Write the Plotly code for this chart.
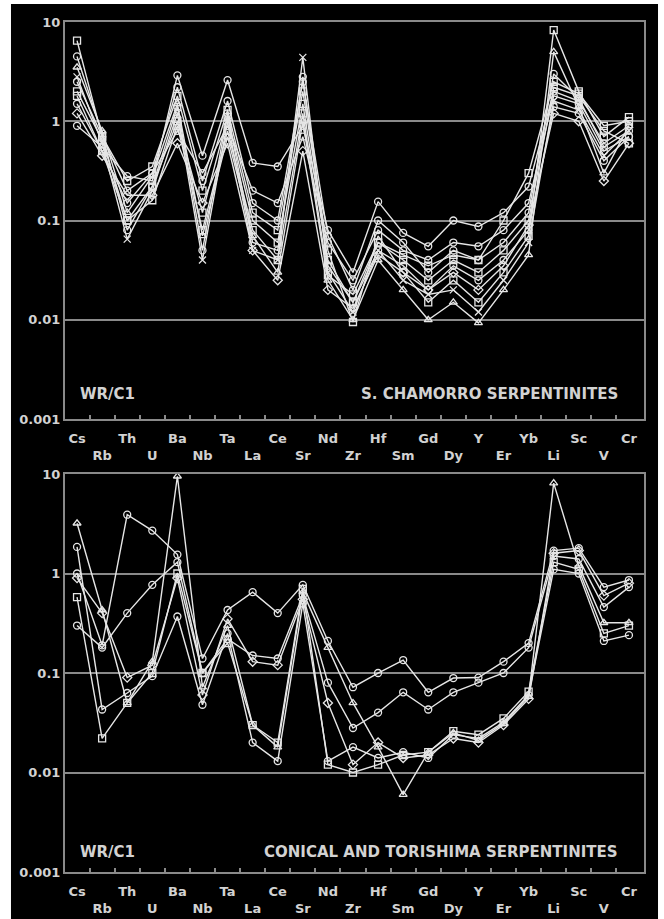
import plotly.graph_objects as go

# Trace elements along the x axis (normalised to C1 chondrite)
elements = ["Cs", "Rb", "Th", "U", "Ba", "Nb", "Ta", "La", "Ce", "Sr", "Nd", "Zr",
            "Hf", "Sm", "Gd", "Dy", "Y", "Er", "Yb", "Li", "Sc", "V", "Cr"]

# S. Chamorro serpentinites (WR/C1)
chamorro_1 = [6.5, 0.7, 0.25, 0.35, 1.8, 0.2, 1.3, 0.12, 0.08, 2.0, 0.05, 0.0095, 0.07, 0.03, 0.015, 0.025, 0.015, 0.03, 0.07, 8.3, 2.0, 0.7, 1.1]
chamorro_2 = [2.8, 0.6, 0.065, 0.2, 1.2, 0.04, 1.0, 0.05, 0.04, 4.4, 0.03, 0.012, 0.05, 0.025, 0.018, 0.02, 0.012, 0.025, 0.06, 1.6, 1.3, 0.45, 0.8]
chamorro_3 = [0.9, 0.55, 0.28, 0.25, 2.9, 0.45, 2.6, 0.38, 0.35, 0.9, 0.08, 0.03, 0.155, 0.075, 0.055, 0.1, 0.087, 0.12, 0.22, 2.0, 1.6, 0.6, 0.9]
chamorro_4 = [1.5, 0.5, 0.15, 0.3, 0.8, 0.3, 0.9, 0.2, 0.15, 0.7, 0.06, 0.025, 0.08, 0.05, 0.04, 0.06, 0.055, 0.08, 0.15, 1.8, 1.5, 0.5, 0.7]
chamorro_5 = [2.0, 0.65, 0.1, 0.22, 1.0, 0.12, 1.1, 0.1, 0.06, 1.5, 0.04, 0.015, 0.06, 0.04, 0.025, 0.04, 0.03, 0.05, 0.1, 2.2, 1.8, 0.8, 0.6]
chamorro_6 = [3.5, 0.8, 0.12, 0.28, 1.5, 0.07, 0.7, 0.07, 0.03, 1.0, 0.025, 0.01, 0.04, 0.02, 0.01, 0.015, 0.0093, 0.02, 0.045, 5.0, 1.4, 0.3, 0.9]
chamorro_7 = [1.2, 0.45, 0.18, 0.18, 0.6, 0.15, 0.6, 0.05, 0.025, 0.5, 0.02, 0.013, 0.045, 0.03, 0.02, 0.03, 0.02, 0.035, 0.09, 1.2, 1.0, 0.25, 0.6]
chamorro_8 = [2.5, 0.7, 0.2, 0.3, 2.2, 0.25, 1.6, 0.15, 0.1, 2.5, 0.07, 0.02, 0.1, 0.06, 0.03, 0.05, 0.04, 0.06, 0.12, 3.0, 1.7, 0.55, 0.8]
chamorro_9 = [4.5, 0.75, 0.08, 0.22, 1.4, 0.05, 1.2, 0.06, 0.05, 2.8, 0.035, 0.015, 0.05, 0.035, 0.02, 0.035, 0.025, 0.04, 0.08, 1.4, 1.2, 0.4, 0.7]
chamorro_10 = [1.8, 0.5, 0.1, 0.16, 0.9, 0.08, 0.8, 0.08, 0.04, 1.2, 0.028, 0.018, 0.06, 0.045, 0.035, 0.045, 0.04, 0.1, 0.3, 2.5, 1.9, 0.9, 1.0]

# Conical and Torishima serpentinites (WR/C1)
conical_1 = [1.0, 0.19, 3.9, 2.7, 1.55, 0.14, 0.43, 0.65, 0.40, 0.77, 0.21, 0.072, 0.1, 0.135, 0.064, 0.089, 0.09, 0.13, 0.2, 1.7, 1.8, 0.73, 0.86]
conical_2 = [0.3, 0.18, 0.4, 0.77, 1.3, 0.1, 0.22, 0.15, 0.14, 0.6, 0.08, 0.028, 0.04, 0.064, 0.043, 0.064, 0.08, 0.1, 0.18, 1.5, 1.4, 0.46, 0.73]
conical_3 = [3.2, 0.43, 0.05, 0.13, 9.5, 0.072, 0.3, 0.03, 0.018, 0.65, 0.18, 0.05, 0.018, 0.006, 0.016, 0.025, 0.021, 0.031, 0.058, 8.1, 1.2, 0.32, 0.32]
conical_4 = [1.85, 0.043, 0.063, 0.093, 0.37, 0.048, 0.25, 0.02, 0.013, 0.5, 0.013, 0.018, 0.014, 0.016, 0.014, 0.024, 0.022, 0.032, 0.06, 1.1, 1.0, 0.21, 0.24]
conical_5 = [0.58, 0.022, 0.05, 0.1, 1.0, 0.1, 0.2, 0.03, 0.02, 0.7, 0.012, 0.01, 0.012, 0.015, 0.016, 0.026, 0.024, 0.035, 0.065, 1.3, 1.1, 0.25, 0.3]
conical_6 = [0.9, 0.4, 0.09, 0.12, 0.9, 0.06, 0.35, 0.13, 0.12, 0.55, 0.05, 0.012, 0.02, 0.014, 0.015, 0.022, 0.02, 0.03, 0.055, 1.6, 1.7, 0.6, 0.8]

chamorro_series = [
    (chamorro_1, "square-open"), (chamorro_2, "x-thin-open"), (chamorro_3, "circle-open"),
    (chamorro_4, "circle-open"), (chamorro_5, "square-open"), (chamorro_6, "triangle-up-open"),
    (chamorro_7, "diamond-open"), (chamorro_8, "circle-open"), (chamorro_9, "circle-open"),
    (chamorro_10, "square-open"),
]
conical_series = [
    (conical_1, "circle-open"), (conical_2, "circle-open"), (conical_3, "triangle-up-open"),
    (conical_4, "circle-open"), (conical_5, "square-open"), (conical_6, "diamond-open"),
]

LINE = "#e6e6e6"
GRID = "#8a8a8a"
TEXT = "#d2d2d2"
FONT = "DejaVu Sans"

x = list(range(len(elements)))
tick_text = [e if i % 2 == 0 else "<br>" + e for i, e in enumerate(elements)]

fig = go.Figure()


def add_series(series, xa, ya):
    for vals, sym in series:
        fig.add_trace(go.Scatter(
            x=x, y=vals, xaxis=xa, yaxis=ya, mode="lines+markers",
            line=dict(color=LINE, width=1.4),
            marker=dict(symbol=sym, size=7, color=LINE, line=dict(color=LINE, width=1.3)),
            showlegend=False, hoverinfo="skip",
        ))


add_series(chamorro_series, "x", "y")
add_series(conical_series, "x2", "y2")

tick_font = dict(family=FONT, size=13, color=TEXT, weight="bold")

xaxis_style = dict(
    range=[-0.48, 22.6], tickmode="array", tickvals=x, ticktext=tick_text,
    ticks="", showgrid=False, zeroline=False, ticklabelstandoff=6, automargin=False,
    showline=True, linecolor=GRID, linewidth=2, mirror=True,
    tickfont=tick_font,
    minor=dict(tickmode="array", tickvals=[i + 0.5 for i in x[:-1]],
               ticks="inside", ticklen=4, tickcolor=GRID, tickwidth=1.5),
)
yaxis_style = dict(
    type="log", range=[-3, 1], tickmode="array", automargin=False,
    tickvals=[0.001, 0.01, 0.1, 1, 10], ticktext=["0.001", "0.01", "0.1", "1", "10"],
    ticks="", showgrid=True, gridcolor=GRID, gridwidth=2, zeroline=False,
    showline=True, linecolor=GRID, linewidth=2, mirror=True,
    tickfont=tick_font,
)

fig.update_layout(
    width=664, height=919,
    margin=dict(l=65, r=20, t=22, b=47),
    paper_bgcolor="white", plot_bgcolor="black",
    xaxis=dict(anchor="y", domain=[0, 1], **xaxis_style),
    yaxis=dict(anchor="x", domain=[0.5329, 1], **yaxis_style),
    xaxis2=dict(anchor="y2", domain=[0, 1], **xaxis_style),
    yaxis2=dict(anchor="x2", domain=[0, 0.4682], **yaxis_style),
    shapes=[dict(type="rect", xref="paper", yref="paper",
                 x0=-0.0933, x1=1.0242, y0=-0.0553, y1=1.0212,
                 fillcolor="black", line=dict(width=0), layer="below")],
    showlegend=False,
)

label_font = dict(family=FONT, size=15, color=TEXT, weight="bold")
fig.add_annotation(x=0.05, y=-2.745, xref="x", yref="y", text="WR/C1",
                   showarrow=False, xanchor="left", font=label_font)
fig.add_annotation(x=21.65, y=-2.745, xref="x", yref="y", text="S. CHAMORRO SERPENTINITES",
                   showarrow=False, xanchor="right", font=label_font)
fig.add_annotation(x=0.05, y=-2.8, xref="x2", yref="y2", text="WR/C1",
                   showarrow=False, xanchor="left", font=label_font)
fig.add_annotation(x=21.65, y=-2.8, xref="x2", yref="y2", text="CONICAL AND TORISHIMA SERPENTINITES",
                   showarrow=False, xanchor="right", font=label_font)

fig.write_html("out.html")
